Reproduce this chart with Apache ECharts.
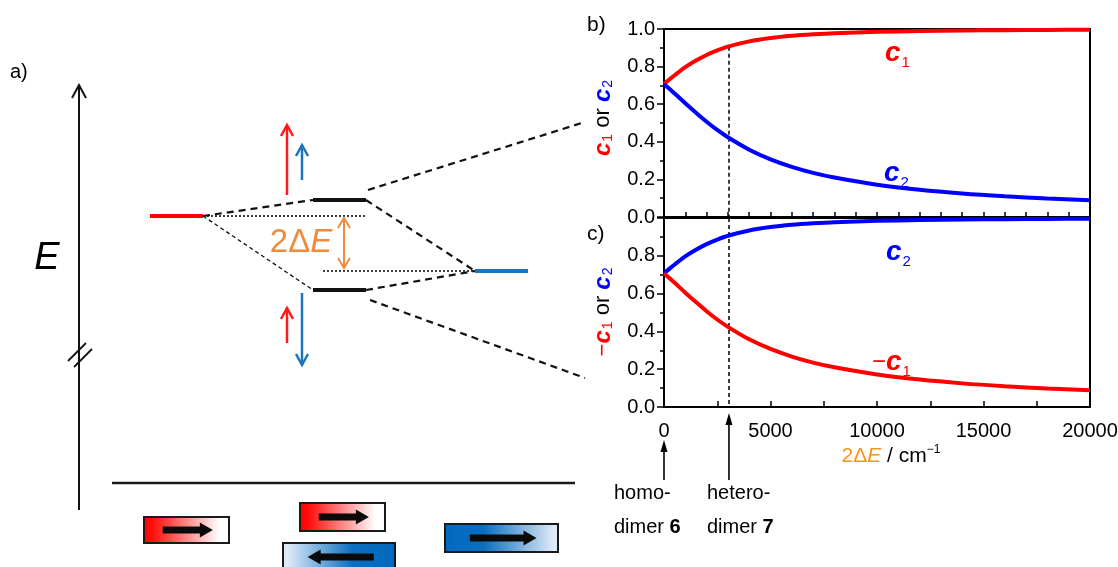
<!DOCTYPE html>
<html><head><meta charset="utf-8">
<script src="https://cdn.jsdelivr.net/npm/echarts@6/dist/echarts.min.js"></script>
<style>html,body{margin:0;padding:0;background:#fff}#main{width:1118px;height:567px}</style>
</head><body><div id="main"></div>
<script>
// ---------- panel b / c data ----------
const deltaE   = [0,250,500,1000,1500,2000,2500,3000,4000,5000,6000,7000,8000,10000,12000,14000,16000,18000,20000];
const c1Values = [0.707,0.731,0.754,0.797,0.832,0.862,0.886,0.906,0.934,0.952,0.964,0.972,0.978,0.985,0.989,0.992,0.994,0.995,0.996];
const c2Values = [0.707,0.682,0.657,0.605,0.555,0.507,0.463,0.424,0.358,0.307,0.267,0.235,0.210,0.172,0.145,0.125,0.110,0.098,0.089];
const heteroDimerDE = 3050;          // 2ΔE of heterodimer 7
const heteroDimerC1 = 0.906;
const yTicks = [0.0,0.2,0.4,0.6,0.8,1.0];
const xTicks = [0,5000,10000,15000,20000];
const dimerMarks = [0, heteroDimerDE];
const dimerNames = [['homo-','dimer ','6'],['hetero-','dimer ','7']];

// ---------- panel a: energy-level diagram (diagram units) ----------
const levels      = [[150,216,203,216],[313,200,366,200],[313,290,366,290],[475,271,528,271]];
const levelColors = ['#ff0000','#111111','#111111','#1b75bc'];
const dashLinks   = [[203,216,313,200],[366,200,475,271],[366,290,475,271],[368,190,585,122],[370,300,585,378]];
const thinLinks   = [[203,216,313,290]];
const dotLinks    = [[203,216,365,216],[323,271,475,271]];
const spinArrows  = [[287,195,125],[302,180,145],[287,343,308],[302,293,365]];
const spinColors  = ['#ff1a1a','#1b75bc','#ff1a1a','#1b75bc'];
const gapArrow    = [[344,268,218],[344,218,268]];
const energyAxis  = [[79,510,85]];
const axisBreak   = [[68,361,86,343],[74,367,92,349]];
const baseLine    = [[112,483,575,483]];
const monomers    = [[144,517,229,543],[300,503,385,531],[283,543,395,578],[445,524,558,552]];
const monomerKind = ['red','red','blueRev','blue'];
const monomerDir  = [1,1,-1,1];

const FONT = '"Liberation Sans", Arial, sans-serif';
const chart = echarts.init(document.getElementById('main'));

function segSeries(data, style, z){
  return {type:'custom', xAxisIndex:0, yAxisIndex:0, silent:true, animation:false, z:z, clip:false,
    encode:{x:[0,2], y:[1,3]}, data:data,
    renderItem:function(p, api){
      const a = api.coord([api.value(0), api.value(1)]);
      const b = api.coord([api.value(2), api.value(3)]);
      const st = typeof style === 'function' ? style(p.dataIndex) : style;
      return {type:'line', shape:{x1:a[0],y1:a[1],x2:b[0],y2:b[1]}, style:Object.assign({fill:null}, st)};
    }};
}
function arrowSeries(data, colorFn, width, hw, hl, z){
  return {type:'custom', xAxisIndex:0, yAxisIndex:0, silent:true, animation:false, z:z, clip:false,
    encode:{x:0, y:[1,2]}, data:data,
    renderItem:function(p, api){
      const a = api.coord([api.value(0), api.value(1)]);
      const t = api.coord([api.value(0), api.value(2)]);
      const dir = a[1] > t[1] ? 1 : -1;
      const col = colorFn(p.dataIndex);
      return {type:'group', children:[
        {type:'line', shape:{x1:a[0],y1:a[1],x2:t[0],y2:t[1]}, style:{stroke:col, lineWidth:width}},
        {type:'polyline', shape:{points:[[t[0]-hw,t[1]+dir*hl],[t[0],t[1]],[t[0]+hw,t[1]+dir*hl]]}, style:{stroke:col, lineWidth:width, fill:null}}
      ]};
    }};
}
const gradients = {
  red:     [{offset:0,color:'#ff0000'},{offset:0.12,color:'#ff1010'},{offset:0.88,color:'#ffffff'},{offset:1,color:'#ffffff'}],
  blue:    [{offset:0,color:'#0068bd'},{offset:0.35,color:'#0b6fc0'},{offset:0.95,color:'#dde9f6'},{offset:1,color:'#dde9f6'}],
  blueRev: [{offset:0,color:'#dde9f6'},{offset:0.05,color:'#dde9f6'},{offset:0.62,color:'#0b6fc0'},{offset:1,color:'#0068bd'}]
};

const series = [
  segSeries(dashLinks, {stroke:'#111', lineWidth:2.2, lineDash:[7,5]}, 2),
  segSeries(thinLinks, {stroke:'#111', lineWidth:1.3, lineDash:[4,3]}, 2),
  segSeries(dotLinks,  {stroke:'#111', lineWidth:1.6, lineDash:[2,2]}, 2),
  segSeries(levels, function(i){return {stroke:levelColors[i], lineWidth:4};}, 3),
  segSeries(baseLine, {stroke:'#1a1a1a', lineWidth:2.5}, 3),
  segSeries(axisBreak, {stroke:'#111', lineWidth:1.8}, 3),
  arrowSeries(energyAxis, function(){return '#111';}, 2, 7, 13, 3),
  arrowSeries(spinArrows, function(i){return spinColors[i];}, 2.5, 6, 11, 3),
  arrowSeries(gapArrow, function(){return '#f08b3e';}, 2, 6, 10, 3),
  {type:'custom', xAxisIndex:0, yAxisIndex:0, silent:true, animation:false, z:3, clip:false,
    encode:{x:[0,2], y:[1,3]}, data:monomers,
    renderItem:function(p, api){
      const a = api.coord([api.value(0), api.value(1)]);
      const b = api.coord([api.value(2), api.value(3)]);
      const w = b[0]-a[0], h = b[1]-a[1];
      const kind = monomerKind[p.dataIndex], dir = monomerDir[p.dataIndex];
      const cy = a[1] + Math.min(h, 28)/2;
      const x0 = a[0] + 0.22*w, x1 = a[0] + 0.81*w;
      const tail = dir>0 ? x0 : x1, tip = dir>0 ? x1 : x0;
      const neck = tip - dir*13;
      const pts = [[tail,cy-3.5],[neck,cy-3.5],[neck,cy-7.5],[tip,cy],[neck,cy+7.5],[neck,cy+3.5],[tail,cy+3.5]];
      return {type:'group', children:[
        {type:'rect', shape:{x:a[0],y:a[1],width:w,height:h},
          style:{fill:{type:'linear',x:0,y:0,x2:1,y2:0,colorStops:gradients[kind]}, stroke:'#1a1a1a', lineWidth:2}},
        {type:'polygon', shape:{points:pts}, style:{fill:'#0a0a0a'}}
      ]};
    }},
  // panel b
  {type:'line', name:'c1', xAxisIndex:1, yAxisIndex:1, data:deltaE.map((x,i)=>[x,c1Values[i]]),
    showSymbol:false, smooth:0.3, lineStyle:{color:'#ff0000', width:4}, itemStyle:{color:'#ff0000'}, z:5, animation:false,
    markLine:{silent:true, symbol:'none', label:{show:false}, lineStyle:{color:'#000', width:1.5, type:[4,3]},
      data:[[{coord:[heteroDimerDE, heteroDimerC1]},{coord:[heteroDimerDE, 0]}]]}},
  {type:'line', name:'c2', xAxisIndex:1, yAxisIndex:1, data:deltaE.map((x,i)=>[x,c2Values[i]]),
    showSymbol:false, smooth:0.3, lineStyle:{color:'#0000ff', width:4}, itemStyle:{color:'#0000ff'}, z:5, animation:false},
  // panel c
  {type:'line', name:'c2 (c)', xAxisIndex:2, yAxisIndex:2, data:deltaE.map((x,i)=>[x,c1Values[i]]),
    showSymbol:false, smooth:0.3, lineStyle:{color:'#0000ff', width:4}, itemStyle:{color:'#0000ff'}, z:5, animation:false,
    markLine:{silent:true, symbol:'none', label:{show:false}, lineStyle:{color:'#000', width:1.5, type:[4,3]},
      data:[[{coord:[heteroDimerDE, 1]},{coord:[heteroDimerDE, 0]}]]}},
  {type:'line', name:'-c1 (c)', xAxisIndex:2, yAxisIndex:2, data:deltaE.map((x,i)=>[x,c2Values[i]]),
    showSymbol:false, smooth:0.3, lineStyle:{color:'#ff0000', width:4}, itemStyle:{color:'#ff0000'}, z:5, animation:false},
  // dimer arrows below panel c
  {type:'custom', xAxisIndex:2, yAxisIndex:2, silent:true, animation:false, clip:false, z:5,
    data:dimerMarks.map(x=>[x,0]),
    renderItem:function(p, api){
      const o = api.coord([api.value(0), 0]);
      const tipY = o[1] + (p.dataIndex===0 ? 33 : 6);
      const endY = o[1] + 73;
      return {type:'group', children:[
        {type:'line', shape:{x1:o[0],y1:endY,x2:o[0],y2:tipY+8}, style:{stroke:'#000', lineWidth:1.6}},
        {type:'polygon', shape:{points:[[o[0]-3.5,tipY+12],[o[0],tipY],[o[0]+3.5,tipY+12]]}, style:{fill:'#000'}}
      ]};
    }}
];

const capRich = {
  r:{fontFamily:FONT, fontSize:24, fill:'#ff0000', fontStyle:'italic', fontWeight:'bold'},
  rs:{fontFamily:FONT, fontSize:14, fill:'#ff0000', verticalAlign:'bottom', padding:[0,0,0,1]},
  b:{fontFamily:FONT, fontSize:24, fill:'#0000ff', fontStyle:'italic', fontWeight:'bold'},
  bs:{fontFamily:FONT, fontSize:14, fill:'#0000ff', verticalAlign:'bottom', padding:[0,0,0,1]},
  o:{fontFamily:FONT, fontSize:22, fill:'#000'},
  rm:{fontFamily:FONT, fontSize:22, fill:'#ff0000'}
};
const curveRich = {
  r:{fontFamily:FONT, fontSize:28, fill:'#ff0000', fontStyle:'italic', fontWeight:'bold', lineHeight:30},
  rs:{fontFamily:FONT, fontSize:15, fill:'#ff0000', verticalAlign:'bottom', lineHeight:34, padding:[0,0,0,1]},
  rm:{fontFamily:FONT, fontSize:24, fill:'#ff0000', lineHeight:30},
  b:{fontFamily:FONT, fontSize:28, fill:'#0000ff', fontStyle:'italic', fontWeight:'bold', lineHeight:30},
  bs:{fontFamily:FONT, fontSize:15, fill:'#0000ff', verticalAlign:'bottom', lineHeight:34, padding:[0,0,0,1]}
};

const graphic = [
  {type:'text', x:10, y:62, silent:true, z:10, style:{text:'a)', font:'20px '+FONT, fill:'#000'}},
  {type:'text', x:587, y:15, silent:true, z:10, style:{text:'b)', font:'21px '+FONT, fill:'#000'}},
  {type:'text', x:587, y:224, silent:true, z:10, style:{text:'c)', font:'21px '+FONT, fill:'#000'}},
  {type:'text', x:47, y:258, silent:true, z:10, style:{text:'E', font:'italic 38px '+FONT, fill:'#000', align:'center', verticalAlign:'middle'}},
  {type:'text', x:301, y:243, silent:true, z:10, style:{text:'{n|2Δ}{i|E}', align:'center', verticalAlign:'middle',
    rich:{n:{fontFamily:FONT, fontSize:33, fill:'#f08b3e'}, i:{fontFamily:FONT, fontSize:33, fill:'#f08b3e', fontStyle:'italic'}}}},
  {type:'text', x:603, y:118, rotation:Math.PI/2, silent:true, z:10,
    style:{text:'{r|c}{rs|1}{o| or }{b|c}{bs|2}', rich:capRich, align:'center', verticalAlign:'middle'}},
  {type:'text', x:603, y:312, rotation:Math.PI/2, silent:true, z:10,
    style:{text:'{rm|−}{r|c}{rs|1}{o| or }{b|c}{bs|2}', rich:capRich, align:'center', verticalAlign:'middle'}},
  {type:'text', x:885, y:36, silent:true, z:10, style:{text:'{r|c}{rs|1}', rich:curveRich}},
  {type:'text', x:884, y:156, silent:true, z:10, style:{text:'{b|c}{bs|2}', rich:curveRich}},
  {type:'text', x:886, y:235, silent:true, z:10, style:{text:'{b|c}{bs|2}', rich:curveRich}},
  {type:'text', x:872, y:345, silent:true, z:10, style:{text:'{rm|−}{r|c}{rs|1}', rich:curveRich}},
  {type:'text', x:891, y:456, silent:true, z:10, style:{text:'{o|2Δ}{oi|E}{k| / cm}{s|−1}', align:'center', verticalAlign:'middle',
    rich:{o:{fontFamily:FONT,fontSize:21,fill:'#f7941d',lineHeight:24}, oi:{fontFamily:FONT,fontSize:21,fill:'#f7941d',fontStyle:'italic',lineHeight:24},
          k:{fontFamily:FONT,fontSize:21,fill:'#000',lineHeight:24}, s:{fontFamily:FONT,fontSize:12,fill:'#000',verticalAlign:'top',lineHeight:24}}}},
  {type:'text', x:614, y:493, silent:true, z:10, style:{text:dimerNames[0][0], font:'20px '+FONT, fill:'#000', verticalAlign:'middle'}},
  {type:'text', x:614, y:527, silent:true, z:10, style:{text:'{n|'+dimerNames[0][1]+'}{b|'+dimerNames[0][2]+'}', verticalAlign:'middle',
    rich:{n:{fontFamily:FONT,fontSize:20,fill:'#000'}, b:{fontFamily:FONT,fontSize:20,fill:'#000',fontWeight:'bold'}}}},
  {type:'text', x:707, y:493, silent:true, z:10, style:{text:dimerNames[1][0], font:'20px '+FONT, fill:'#000', verticalAlign:'middle'}},
  {type:'text', x:707, y:527, silent:true, z:10, style:{text:'{n|'+dimerNames[1][1]+'}{b|'+dimerNames[1][2]+'}', verticalAlign:'middle',
    rich:{n:{fontFamily:FONT,fontSize:20,fill:'#000'}, b:{fontFamily:FONT,fontSize:20,fill:'#000',fontWeight:'bold'}}}}
];

function yAxisFor(gridIndex, showMax){
  return {gridIndex:gridIndex, type:'value', min:yTicks[0], max:yTicks[yTicks.length-1], interval:yTicks[1]-yTicks[0],
    axisLine:{show:true, lineStyle:{color:'#000', width:2}},
    axisTick:{show:true, length:7, lineStyle:{color:'#000', width:1.5}},
    minorTick:{show:true, splitNumber:2, length:4, lineStyle:{color:'#000', width:1.5}},
    splitLine:{show:false},
    axisLabel:{fontSize:20, fontFamily:FONT, color:'#000', margin:9, showMaxLabel:showMax, formatter:v=>v.toFixed(1)}};
}

const option = {
  backgroundColor:'#fff',
  animation:false,
  grid:[
    {left:0, top:0, width:1118, height:567, show:false, outerBoundsMode:'none', containLabel:false},
    {left:664, top:29, width:426, height:188, show:true, borderColor:'#000', borderWidth:2, backgroundColor:'transparent', outerBoundsMode:'none', containLabel:false},
    {left:664, top:218, width:426, height:189, show:true, borderColor:'#000', borderWidth:2, backgroundColor:'transparent', outerBoundsMode:'none', containLabel:false}
  ],
  xAxis:[
    {gridIndex:0, type:'value', min:0, max:1118, show:false},
    {gridIndex:1, type:'value', min:xTicks[0], max:xTicks[xTicks.length-1], interval:1000,
      axisLine:{show:true, lineStyle:{color:'#000', width:2}}, axisTick:{show:true, inside:true, length:5, lineStyle:{color:'#000', width:1.5}},
      axisLabel:{show:false}, splitLine:{show:false}},
    {gridIndex:2, type:'value', min:xTicks[0], max:xTicks[xTicks.length-1], interval:xTicks[1]-xTicks[0],
      axisLine:{show:true, lineStyle:{color:'#000', width:2}}, axisTick:{show:true, inside:true, length:6, lineStyle:{color:'#000', width:1.5}},
      minorTick:{show:true, splitNumber:2, length:6, lineStyle:{color:'#000', width:1.5}},
      axisLabel:{fontSize:20, fontFamily:FONT, color:'#000', margin:14, formatter:v=>String(v)}, splitLine:{show:false}},
    {gridIndex:2, type:'value', min:xTicks[0], max:xTicks[xTicks.length-1], interval:xTicks[1]-xTicks[0],
      axisLine:{show:false}, axisTick:{show:true, inside:false, length:5, lineStyle:{color:'#000', width:1.5}},
      axisLabel:{show:false}, splitLine:{show:false}}
  ],
  yAxis:[
    {gridIndex:0, type:'value', min:0, max:567, inverse:true, show:false},
    yAxisFor(1, true),
    yAxisFor(2, false)
  ],
  series:series,
  graphic:graphic
};
chart.setOption(option);
</script></body></html>
